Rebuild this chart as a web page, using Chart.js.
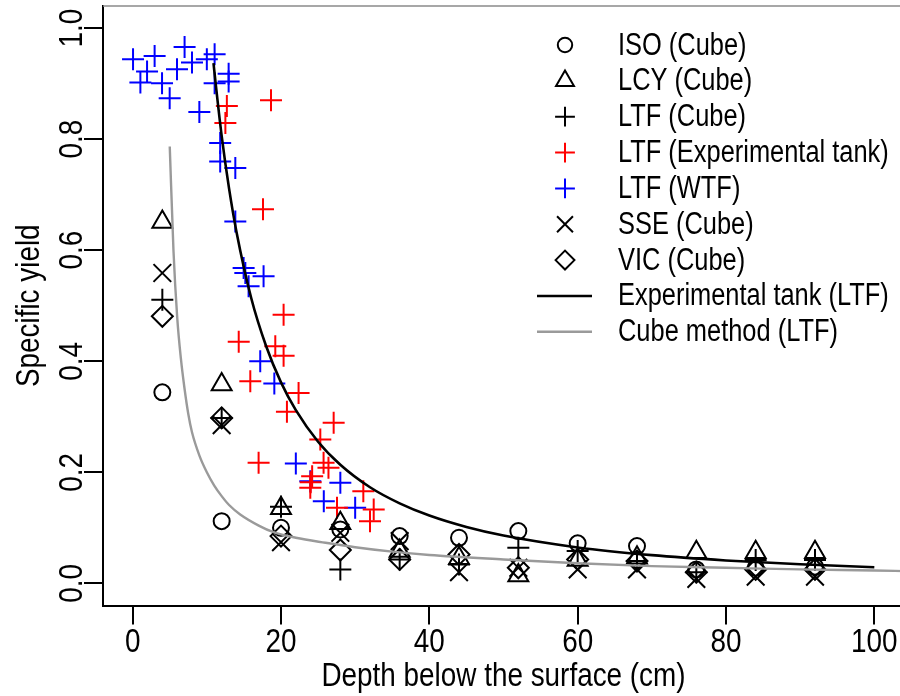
<!DOCTYPE html>
<html>
<head>
<meta charset="utf-8">
<script src="https://cdn.jsdelivr.net/npm/chart.js@4.4.1/dist/chart.umd.min.js"></script>
<style>
html,body{margin:0;padding:0;background:#fff;overflow:hidden;width:900px;height:696px}
#wrap{position:relative;width:906px;height:696px}
</style>
</head>
<body>
<div id="wrap"><canvas id="c" width="906" height="696"></canvas></div>
<script>
// ---------------- data ----------------
const xTickValues = [0, 20, 40, 60, 80, 100];
const xTickLabels = ['0', '20', '40', '60', '80', '100'];
const yTickValues = [0, 0.2, 0.4, 0.6, 0.8, 1.0];
const yTickLabels = ['0.0', '0.2', '0.4', '0.6', '0.8', '1.0'];

const cubeDepth = [4, 12, 20, 28, 36, 44, 52, 60, 68, 76, 84, 92];
const isoCube = [0.344, 0.112, 0.100, 0.097, 0.085, 0.082, 0.094, 0.072, 0.067, 0.025, 0.028, 0.030];
const lcyCube = [0.651, 0.358, 0.135, 0.108, 0.058, 0.045, 0.014, 0.042, 0.046, 0.056, 0.056, 0.056];
const ltfCube = [0.511, 0.298, 0.138, 0.025, 0.043, 0.034, 0.064, 0.058, 0.040, 0.020, 0.042, 0.042];
const sseCube = [0.559, 0.285, 0.074, 0.091, 0.076, 0.020, 0.028, 0.025, 0.025, 0.008, 0.012, 0.012];
const vicCube = [0.481, 0.298, 0.085, 0.060, 0.043, 0.052, 0.028, 0.043, 0.040, 0.020, 0.025, 0.025];

const tankDepth = [12.7, 12.5, 18.65, 17.57, 20.35, 14.3, 19.23, 20.35, 15.86, 22.37, 20.8, 27.1, 25.3, 16.98, 25.74, 26.4, 24.2, 24.0, 23.95, 27.55, 31.1, 32.5, 32.0];
const tankYield = [0.86, 0.829, 0.870, 0.674, 0.484, 0.435, 0.427, 0.41, 0.364, 0.343, 0.309, 0.289, 0.259, 0.217, 0.217, 0.208, 0.193, 0.182, 0.172, 0.136, 0.166, 0.133, 0.112];

const wtfDepth = [0.05, 2.96, 7.0, 1.94, 1.04, 3.96, 5.98, 8.0, 10.0, 11.05, 4.99, 8.99, 11.05, 12.94, 12.94, 11.8, 11.8, 13.84, 13.84, 14.96, 15.19, 17.65, 15.63, 17.2, 19.1, 22.0, 23.95, 25.77, 28.0, 30.0];
const wtfYield = [0.944, 0.950, 0.966, 0.922, 0.902, 0.901, 0.926, 0.938, 0.944, 0.953, 0.874, 0.849, 0.901, 0.904, 0.918, 0.793, 0.76, 0.748, 0.652, 0.568, 0.559, 0.553, 0.535, 0.400, 0.360, 0.216, 0.184, 0.148, 0.181, 0.136];

const tankCurveX = [10.9, 11, 12, 13, 14, 16, 18, 20, 22, 25, 28, 32, 36, 40, 45, 50, 60, 70, 80, 90, 100];
const tankCurveY = [0.937, 0.924, 0.806, 0.711, 0.633, 0.513, 0.427, 0.362, 0.312, 0.255, 0.2135, 0.173, 0.144, 0.122, 0.1014, 0.086, 0.0646, 0.0507, 0.0412, 0.0342, 0.029];

const cubeCurveX = [5, 5.5, 6, 6.5, 7, 7.5, 8, 9, 10, 11, 12, 13, 14.5, 17, 19, 22, 26, 30, 35, 40, 50, 60, 70, 80, 90, 100, 104];
const cubeCurveY = [0.787, 0.60, 0.48, 0.405, 0.35, 0.305, 0.272, 0.23, 0.20, 0.176, 0.157, 0.141, 0.124, 0.104, 0.092, 0.082, 0.073, 0.065, 0.057, 0.051, 0.043, 0.036, 0.031, 0.028, 0.025, 0.023, 0.022];

const xTitle = 'Depth below the surface (cm)';
const yTitle = 'Specific yield';

// ---------------- fonts ----------------
function fontAvailable(name) {
  const c = document.createElement('canvas').getContext('2d');
  const s = 'LTF (Experimental tank) 0123456789';
  c.font = '40px monospace';
  const a = c.measureText(s).width;
  c.font = '40px "' + name + '", monospace';
  const b = c.measureText(s).width;
  return Math.abs(a - b) > 1;
}
const hasNarrow = fontAvailable('Liberation Sans Narrow');
const FAMILY = hasNarrow ? '"Liberation Sans Narrow", "Arial Narrow", sans-serif' : '"Liberation Sans", Arial, sans-serif';
if (!hasNarrow) {
  const origFill = CanvasRenderingContext2D.prototype.fillText;
  CanvasRenderingContext2D.prototype.fillText = function (t, x, y) {
    this.save(); this.translate(x, y); this.scale(0.82, 1); origFill.call(this, t, 0, 0); this.restore();
  };
}
const AXIS_FONT = 34;
const LEG_FONT = 31;

const pts = (xs, ys) => xs.map((x, i) => ({ x: x, y: ys[i] }));

function pointSet(label, xs, ys, style, color, r) {
  return {
    type: 'scatter', label: label, data: pts(xs, ys), pointStyle: style,
    pointRadius: r, pointHoverRadius: r, pointBorderWidth: 2, pointBorderColor: color,
    pointBackgroundColor: 'rgba(0,0,0,0)', borderColor: color, backgroundColor: 'rgba(0,0,0,0)',
    showLine: false, order: 1
  };
}
function lineSet(label, xs, ys, color, w) {
  return {
    type: 'line', label: label, data: pts(xs, ys), borderColor: color, borderWidth: w,
    pointRadius: 0, fill: false, cubicInterpolationMode: 'monotone', order: 0, isCurve: true
  };
}

const datasets = [
  pointSet('ISO (Cube)', cubeDepth, isoCube, 'circle', '#000', 8),
  pointSet('LCY (Cube)', cubeDepth, lcyCube, 'triangle', '#000', 11.5),
  pointSet('LTF (Cube)', cubeDepth, ltfCube, 'cross', '#000', 11),
  pointSet('LTF (Experimental tank)', tankDepth, tankYield, 'cross', '#ff0000', 11),
  pointSet('LTF (WTF)', wtfDepth, wtfYield, 'cross', '#0000ff', 11),
  pointSet('SSE (Cube)', cubeDepth, sseCube, 'crossRot', '#000', 12.5),
  pointSet('VIC (Cube)', cubeDepth, vicCube, 'rectRot', '#000', 10.5),
  lineSet('Experimental tank (LTF)', tankCurveX, tankCurveY, '#000', 2.6),
  lineSet('Cube method (LTF)', cubeCurveX, cubeCurveY, '#9a9a9a', 2.4)
];

function mark(ctx, style, x, y, r) {
  ctx.beginPath();
  if (style === 'circle') { ctx.arc(x, y, r, 0, Math.PI * 2); }
  else if (style === 'triangle') {
    const a = 2 * Math.PI / 3;
    ctx.moveTo(x, y - r);
    ctx.lineTo(x + r * Math.sin(a), y - r * Math.cos(a));
    ctx.lineTo(x + r * Math.sin(2 * a), y - r * Math.cos(2 * a));
    ctx.closePath();
  } else if (style === 'cross') {
    ctx.moveTo(x, y - r); ctx.lineTo(x, y + r); ctx.moveTo(x - r, y); ctx.lineTo(x + r, y);
  } else if (style === 'crossRot') {
    const d = r * Math.SQRT1_2;
    ctx.moveTo(x - d, y - d); ctx.lineTo(x + d, y + d); ctx.moveTo(x - d, y + d); ctx.lineTo(x + d, y - d);
  } else if (style === 'rectRot') {
    ctx.moveTo(x - r, y); ctx.lineTo(x, y - r); ctx.lineTo(x + r, y); ctx.lineTo(x, y + r); ctx.closePath();
  }
  ctx.stroke();
}

const rLegend = {
  id: 'rLegend',
  afterDraw(chart) {
    const ctx = chart.ctx;
    ctx.save();
    const symX = 565, txtX = 618, y0 = 45, dy = 35.85;
    ctx.font = LEG_FONT + 'px ' + FAMILY;
    ctx.textBaseline = 'middle';
    ctx.textAlign = 'left';
    chart.data.datasets.forEach((ds, i) => {
      const y = y0 + i * dy;
      if (ds.isCurve) {
        ctx.strokeStyle = ds.borderColor; ctx.lineWidth = ds.borderWidth;
        ctx.beginPath(); ctx.moveTo(symX - 28, y); ctx.lineTo(symX + 27, y); ctx.stroke();
      } else {
        ctx.strokeStyle = ds.pointBorderColor; ctx.lineWidth = 2;
        mark(ctx, ds.pointStyle, symX, y, ds.pointRadius * 0.9);
      }
      ctx.fillStyle = '#000';
      ctx.fillText(ds.label, txtX, y + 1);
    });
    ctx.restore();
  }
};

const topFrame = {
  id: 'topFrame',
  afterDraw(chart) {
    const a = chart.chartArea, ctx = chart.ctx;
    ctx.save();
    ctx.strokeStyle = '#8a8a8a'; ctx.lineWidth = 1.5;
    ctx.beginPath(); ctx.moveTo(a.left, a.top); ctx.lineTo(a.right, a.top); ctx.stroke();
    ctx.restore();
  }
};

new Chart(document.getElementById('c'), {
  type: 'scatter',
  data: { datasets: datasets },
  options: {
    responsive: false,
    animation: false,
    events: [],
    devicePixelRatio: 1,
    layout: { autoPadding: false, padding: { left: 0, right: 2, top: 6, bottom: 0 } },
    plugins: { legend: { display: false }, tooltip: { enabled: false } },
    scales: {
      x: {
        type: 'linear', min: -4, max: 104,
        afterBuildTicks: s => { s.ticks = xTickValues.map(v => ({ value: v })); },
        afterFit: s => { s.height = 90.5; s.paddingLeft = 0; s.paddingRight = 0; },
        border: { display: true, color: '#000', width: 2 },
        grid: { drawOnChartArea: false, drawTicks: true, tickLength: 19, color: '#000', lineWidth: 2 },
        ticks: {
          padding: 1, color: '#000', maxRotation: 0, minRotation: 0, autoSkip: false,
          font: { family: FAMILY, size: AXIS_FONT, lineHeight: 1 },
          callback: (v, i) => xTickLabels[i]
        },
        title: { display: true, text: xTitle, color: '#000', padding: { top: 0, bottom: 2 },
          font: { family: FAMILY, size: AXIS_FONT, lineHeight: 1 } }
      },
      y: {
        type: 'linear', min: -0.04, max: 1.04,
        afterBuildTicks: s => { s.ticks = yTickValues.map(v => ({ value: v })); },
        afterFit: s => { s.width = 103; s.paddingTop = 0; s.paddingBottom = 0; },
        border: { display: true, color: '#000', width: 2 },
        grid: { drawOnChartArea: false, drawTicks: true, tickLength: 19, color: '#000', lineWidth: 2 },
        ticks: {
          padding: -12, color: '#000', minRotation: 90, maxRotation: 90, crossAlign: 'center', autoSkip: false,
          font: { family: FAMILY, size: AXIS_FONT, lineHeight: 1 },
          callback: (v, i) => yTickLabels[i]
        },
        title: { display: true, text: yTitle, color: '#000', padding: { top: 13, bottom: 0 },
          font: { family: FAMILY, size: AXIS_FONT, lineHeight: 1 } }
      }
    }
  },
  plugins: [rLegend, topFrame]
});
</script>
</body>
</html>
